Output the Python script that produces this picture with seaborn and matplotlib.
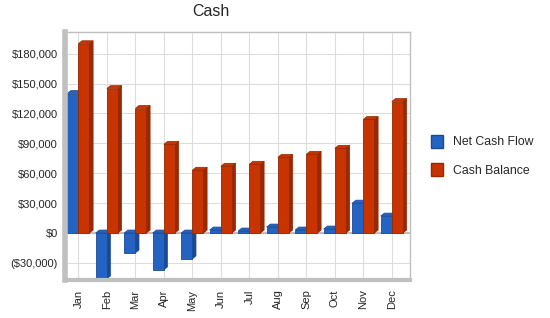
import matplotlib
matplotlib.use("Agg")
import matplotlib.pyplot as plt
import seaborn as sns
import pandas as pd
from matplotlib.patches import Polygon, Patch
from matplotlib.ticker import FuncFormatter

months = ["Jan", "Feb", "Mar", "Apr", "May", "Jun", "Jul", "Aug", "Sep", "Oct", "Nov", "Dec"]
net_cash_flow = [140000, -46000, -20000, -37000, -26000, 3000, 2000, 6000, 3000, 4000, 30000, 17000]
cash_balance = [190000, 145000, 125000, 89000, 63000, 67000, 69000, 76000, 79000, 85000, 114000, 132000]
series_names = ["Net Cash Flow", "Cash Balance"]

front = {"Net Cash Flow": "#2563c3", "Cash Balance": "#c83400"}
side = {"Net Cash Flow": "#1a4a96", "Cash Balance": "#972800"}

df = pd.DataFrame({
    "Month": months * 2,
    "Value": net_cash_flow + cash_balance,
    "Series": [series_names[0]] * 12 + [series_names[1]] * 12,
})

sns.set_style("white")
plt.rcParams["font.family"] = ["Liberation Sans", "DejaVu Sans"]

fig = plt.figure(figsize=(5.5, 3.18), dpi=100)
ax = fig.add_axes([0.118, 0.12, 0.627, 0.78])

sns.barplot(data=df, x="Month", y="Value", hue="Series", palette=front,
            width=0.78, saturation=1, legend=False, ax=ax, zorder=2)

ax.set_xlim(-0.47, 11.63)
ax.set_ylim(-47000, 202000)

# fake 3D: side and top faces for every bar
dx, dy = 0.13, 3000
for i, bar in enumerate(ax.patches):
    name = series_names[0] if i < 12 else series_names[1]
    z = 2 if name == series_names[0] else 3
    bar.set_zorder(z + 0.5)
    bar.set_edgecolor(side[name])
    bar.set_linewidth(0.6)
    bar.set_joinstyle("miter")
    x, w = bar.get_x(), bar.get_width()
    y0, h = bar.get_y(), bar.get_height()
    b, t = min(y0, y0 + h), max(y0, y0 + h)
    ax.add_patch(Polygon([(x + w, b), (x + w + dx, b + dy), (x + w + dx, t + dy), (x + w, t)],
                         closed=True, facecolor=side[name], edgecolor=side[name], lw=0.5, zorder=z))
    ax.add_patch(Polygon([(x, t), (x + dx, t + dy), (x + w + dx, t + dy), (x + w, t)],
                         closed=True, facecolor=front[name], edgecolor=side[name], lw=0.5, zorder=z))

ax.set_yticks(range(-30000, 180001, 30000))

def money(v, pos):
    if v < 0:
        return "(${:,.0f})".format(-v)
    return "${:,.0f}".format(v)

ax.yaxis.set_major_formatter(FuncFormatter(money))
ax.tick_params(axis="y", labelsize=8, length=0, pad=5)
ax.tick_params(axis="x", labelsize=8, length=4, color="#999999", rotation=90, pad=3)
ax.set_xlabel("")
ax.set_ylabel("")

ax.grid(True, color="#dddddd", linewidth=0.8, zorder=0)
ax.set_axisbelow(True)
ax.axhline(0, color="#b5b5b5", linewidth=1.2, zorder=1)

for s in ["top", "right"]:
    ax.spines[s].set_color("#c0c0c0")
    ax.spines[s].set_linewidth(1)
ax.spines["left"].set_color("#c0c0c0")
ax.spines["left"].set_linewidth(4)
ax.spines["bottom"].set_color("#c0c0c0")
ax.spines["bottom"].set_linewidth(3)

fig.text(211 / 550, 1 - 12 / 318, "Cash", ha="center", va="center", fontsize=11.5)

handles = [Patch(facecolor=front[n], edgecolor=side[n], label=n) for n in series_names]
fig.legend(handles=handles, loc="center left", bbox_to_anchor=(0.764, 0.51),
           frameon=False, fontsize=8.8, handlelength=1.0, handleheight=1.2,
           labelspacing=1.2, handletextpad=0.8)

fig.savefig("out.png", dpi=100)
